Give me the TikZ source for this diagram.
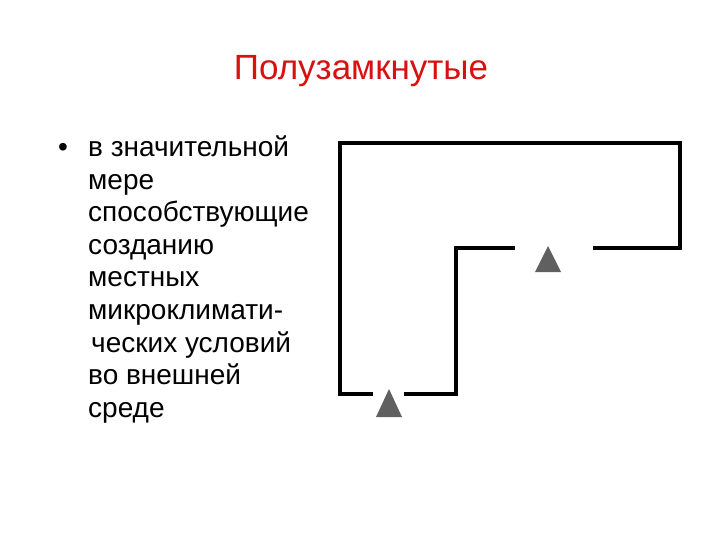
\documentclass[tikz,border=0pt]{standalone}
\usepackage{fontspec}
\setmainfont{Liberation Sans}
\definecolor{titlered}{HTML}{D81010}
\definecolor{trigray}{HTML}{606060}
\tikzset{
  wall/.style={line width=3.6bp, line cap=rect, line join=miter},
  tri/.style={fill=trigray, draw=none},
  bodytext/.style={anchor=base west, inner sep=0pt, font={\fontsize{28bp}{32.5bp}\selectfont}}
}
\begin{document}
\begin{tikzpicture}[x=1bp,y=-1bp]
\useasboundingbox (0,0) rectangle (720,540);
\node[anchor=base, inner sep=0pt, text=titlered, font={\fontsize{35bp}{40bp}\selectfont}] (title) at (361,80) {Полузамкнутые};
\node[anchor=base west, inner sep=0pt, font={\fontsize{28bp}{32.5bp}\selectfont}] (bullet) at (58,157) {•};
\node[bodytext] (body) at (88,157) {\begin{tabular}[t]{@{}l@{}}в значительной\\мере\\способствующие\\созданию\\местных\\микроклимати-\\\hspace{3bp}ческих условий\\во внешней\\среде\end{tabular}};
% walls
\draw[wall] (371,394) -- (340,394) -- (340,143) -- (680,143) -- (680,248) -- (595,248);
\draw[wall] (513,248) -- (456,248) -- (456,394) -- (406,394);
% triangles
\path[tri] (548,246) -- (561,272) -- (535,272) -- cycle;
\path[tri] (389,389) -- (402,417) -- (376,417) -- cycle;
\end{tikzpicture}
\end{document}
